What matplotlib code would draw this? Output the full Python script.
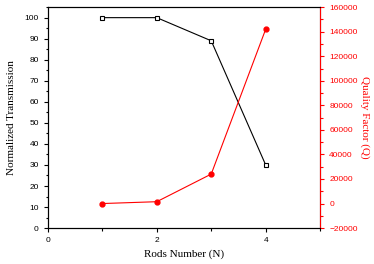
import matplotlib.pyplot as plt
from matplotlib.ticker import MultipleLocator

rods = [1, 2, 3, 4]
transmission = [100, 100, 89, 30]
quality = [0, 1500, 24000, 142000]

fig = plt.figure(figsize=(3.74, 2.64), dpi=100)
ax = fig.add_axes([0.128, 0.136, 0.728, 0.837])
ax2 = ax.twinx()

ax.plot(rods, transmission, color="black", lw=0.8, marker="s", ms=3.5,
        mfc="white", mec="black", mew=0.8)
ax2.plot(rods, quality, color="red", lw=0.8, marker="o", ms=3.5,
         mfc="red", mec="red")

ax.set_xlim(0, 5)
ax.set_ylim(0, 105)
ax2.set_ylim(-20000, 160000)

ax.xaxis.set_major_locator(MultipleLocator(2))
ax.xaxis.set_minor_locator(MultipleLocator(1))
ax.yaxis.set_major_locator(MultipleLocator(10))
ax.yaxis.set_minor_locator(MultipleLocator(5))
ax2.yaxis.set_major_locator(MultipleLocator(20000))
ax2.yaxis.set_minor_locator(MultipleLocator(10000))

for a in (ax, ax2):
    a.tick_params(which="major", length=3, width=0.8, labelsize=6)
    a.tick_params(which="minor", length=1.8, width=0.8)
for lab in ax.get_xticklabels() + ax.get_yticklabels() + ax2.get_yticklabels():
    lab.set_fontfamily("Liberation Sans")

ax2.spines["right"].set_color("red")
ax2.tick_params(axis="y", which="both", colors="red")

ax.set_xlabel("Rods Number (N)", family="Liberation Serif", fontsize=8, labelpad=4)
ax.set_ylabel("Normalized Transmission", family="Liberation Serif", fontsize=8, labelpad=6)
ax2.set_ylabel("Quality Factor (Q)", family="Liberation Serif", fontsize=8,
               color="red", rotation=270, va="center")
ax2.yaxis.set_label_coords(1.165, 0.5)

fig.savefig("out.png", dpi=100)
